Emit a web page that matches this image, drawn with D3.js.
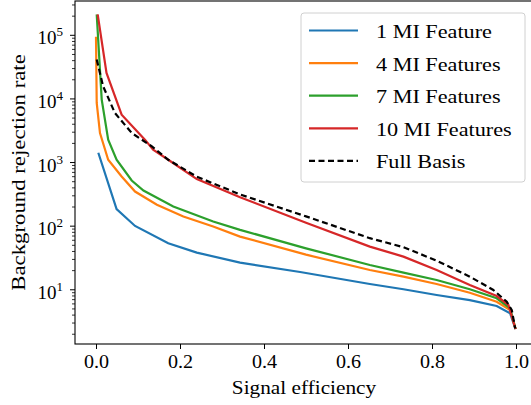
<!DOCTYPE html>
<html>
<head>
<meta charset="utf-8">
<script src="https://cdn.jsdelivr.net/npm/d3@7"></script>
<style>
  body { margin: 0; background: #fff; }
  svg { display: block; font-family: "Liberation Serif", "DejaVu Serif", serif; }
</style>
</head>
<body>
<svg id="svg" width="531" height="405"></svg>
<script>
// signal efficiency / background rejection
const eff1 = [0.0055, 0.049, 0.093, 0.172, 0.24, 0.343, 0.486, 0.652, 0.732, 0.811, 0.89, 0.954, 0.986, 0.999];
const rej1 = [1400, 182, 99, 53, 37.7, 26.2, 18.7, 12.1, 10.0, 8.13, 6.77, 5.46, 4.19, 2.37];

const eff4 = [0.0, 0.0017, 0.0095, 0.029, 0.061, 0.093, 0.145, 0.208, 0.279, 0.343, 0.5, 0.652, 0.732, 0.811, 0.89, 0.954, 0.986, 0.999];
const rej4 = [93000, 8500, 2860, 1087, 593, 344, 213, 139, 96.8, 67.3, 35, 20.1, 15.8, 12.1, 8.84, 6.38, 4.72, 2.37];

const eff7 = [0.0017, 0.0136, 0.029, 0.049, 0.085, 0.113, 0.184, 0.279, 0.343, 0.5, 0.652, 0.732, 0.811, 0.89, 0.954, 0.986, 0.999];
const rej7 = [209000, 9600, 2245, 1087, 513, 357, 200, 116, 86, 44, 24.1, 18.3, 14.0, 10.0, 7.21, 5.02, 2.37];

const eff10 = [0.004, 0.025, 0.061, 0.117, 0.136, 0.172, 0.24, 0.343, 0.5, 0.652, 0.732, 0.811, 0.89, 0.954, 0.982, 0.999];
const rej10 = [209000, 25200, 5560, 2230, 1563, 1087, 540, 280, 111, 46.9, 32.6, 20.1, 11.7, 7.84, 5.66, 2.37];

const effFull = [0.0017, 0.017, 0.045, 0.085, 0.133, 0.172, 0.24, 0.343, 0.5, 0.652, 0.732, 0.811, 0.89, 0.946, 0.978, 0.99, 0.998];
const rejFull = [40800, 15500, 5910, 2864, 1762, 1087, 588, 310, 140, 63.6, 45.9, 28.2, 15.8, 9.75, 6.38, 4.72, 2.43];

const seriesNames = ["1 MI Feature", "4 MI Features", "7 MI Features", "10 MI Features", "Full Basis"];
const seriesColors = ["#1f77b4", "#ff7f0e", "#2ca02c", "#d62728", "#000000"];
const xTicks = [0, 0.2, 0.4, 0.6, 0.8, 1.0];
const yTicks = [1e1, 1e2, 1e3, 1e4, 1e5];

const series = [
  {eff: eff1, rej: rej1}, {eff: eff4, rej: rej4}, {eff: eff7, rej: rej7},
  {eff: eff10, rej: rej10}, {eff: effFull, rej: rejFull}
].map((s, i) => ({name: seriesNames[i], color: seriesColors[i], dash: i == 4,
  pts: s.eff.map((e, j) => [e, s.rej[j]])}));

const serif = "Liberation Serif";
const svg = d3.select("#svg");
const m = {left: 75, right: 537, top: 1, bottom: 344};

const x = d3.scaleLinear().domain([-0.05, 1.05]).range([m.left, m.right]);
const y = d3.scaleLog().domain([1.38, 3.4e5]).range([m.bottom, m.top]);

// curves
const line = d3.line().x(d => x(d[0])).y(d => y(d[1]));
svg.append("g").selectAll("path").data(series).join("path")
  .attr("fill", "none")
  .attr("stroke", d => d.color)
  .attr("stroke-width", 2.2)
  .attr("stroke-dasharray", d => d.dash ? "6,3.5" : null)
  .attr("d", d => line(d.pts));

// spines
svg.append("rect").attr("x", m.left).attr("y", m.top).attr("width", m.right - m.left).attr("height", m.bottom - m.top)
  .attr("fill", "none").attr("stroke", "#000").attr("stroke-width", 1.1);

// x axis
const xAxisG = svg.append("g").attr("transform", "translate(0," + m.bottom + ")")
  .call(d3.axisBottom(x).tickValues(xTicks).tickFormat(d3.format(".1f")).tickSize(5).tickPadding(6));
xAxisG.attr("font-family", serif).attr("font-size", 19);
xAxisG.select(".domain").remove();
xAxisG.selectAll("text").attr("fill", "#000").attr("transform", "scale(1.06,1)");

// y axis minor ticks
const minor = [];
for (let p = 0; p <= 5; p++) for (let k = 2; k <= 9; k++) {
  const v = k * Math.pow(10, p);
  if (v > 1.38 && v < 3.4e5) minor.push(v);
}
const yMinorG = svg.append("g").attr("transform", "translate(" + m.left + ",0)")
  .call(d3.axisLeft(y).tickValues(minor).tickFormat("").tickSize(3));
yMinorG.select(".domain").remove();
yMinorG.selectAll("line").attr("stroke-width", 0.8);

// y axis major ticks
const yAxisG = svg.append("g").attr("transform", "translate(" + m.left + ",0)")
  .call(d3.axisLeft(y).tickValues(yTicks).tickFormat("").tickSize(5));
yAxisG.attr("font-family", serif).attr("font-size", 19);
yAxisG.select(".domain").remove();
yAxisG.selectAll(".tick").append("text")
  .attr("x", -12).attr("y", 9).attr("fill", "#000").attr("text-anchor", "end")
  .each(function(d) {
    const t = d3.select(this);
    t.append("tspan").text("10");
    t.append("tspan").attr("font-size", 13).attr("dy", -8).text(Math.round(Math.log10(d)));
  });

// axis labels (CM-like width via horizontal stretch)
svg.append("text").attr("transform", "translate(" + ((x(0) + x(1)) / 2 - 2) + ",394) scale(1.12,1)")
  .attr("text-anchor", "middle").attr("font-family", serif).attr("font-size", 19).text("Signal efficiency");
svg.append("text").attr("transform", "translate(25," + ((m.top + m.bottom) / 2) + ") rotate(-90) scale(1.2,1)")
  .attr("text-anchor", "middle").attr("font-family", serif).attr("font-size", 19).text("Background rejection rate");

// legend
const lg = svg.append("g");
lg.append("rect").attr("x", 301).attr("y", 13).attr("width", 224).attr("height", 169)
  .attr("rx", 3).attr("fill", "#fff").attr("fill-opacity", 0.8)
  .attr("stroke", "#d0d0d0").attr("stroke-width", 1);
const rows = lg.selectAll("g.row").data(series).join("g").attr("class", "row")
  .attr("transform", (d, i) => "translate(0," + (30.5 + i * 32.6) + ")");
rows.append("line").attr("x1", 309).attr("x2", 358)
  .attr("stroke", d => d.color).attr("stroke-width", 2.2)
  .attr("stroke-dasharray", d => d.dash ? "6,3.5" : null);
rows.append("text").attr("transform", "translate(376,7.5) scale(1.17,1)")
  .attr("font-family", serif).attr("font-size", 19)
  .text(d => d.name);
</script>
</body>
</html>
